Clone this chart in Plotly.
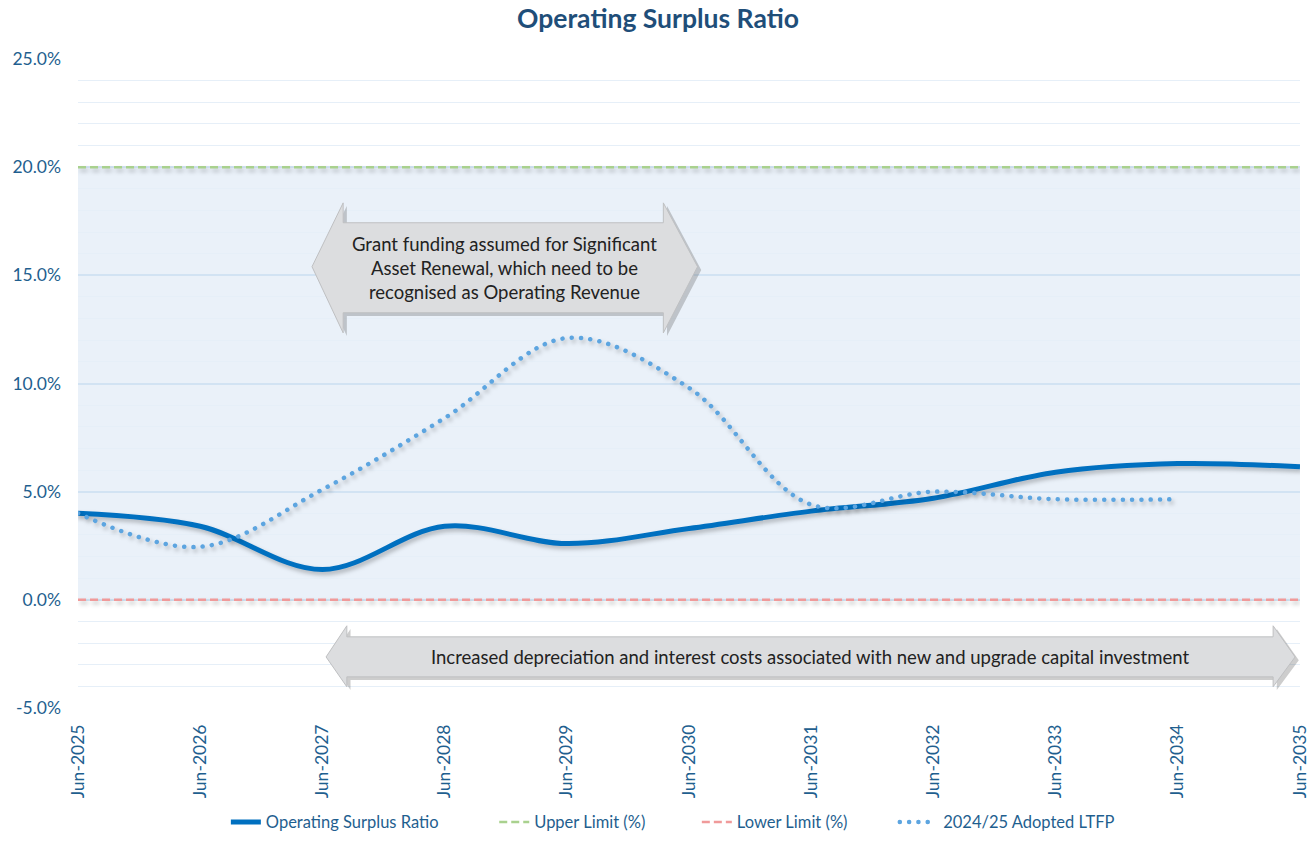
import plotly.graph_objects as go

# Data
periods = ["Jun-2025", "Jun-2026", "Jun-2027", "Jun-2028", "Jun-2029", "Jun-2030",
           "Jun-2031", "Jun-2032", "Jun-2033", "Jun-2034", "Jun-2035"]
surplus_ratio = [4.0, 3.4, 1.4, 3.4, 2.6, 3.3, 4.1, 4.7, 5.9, 6.3, 6.15]
upper_limit = [20.0] * len(periods)
lower_limit = [0.0] * len(periods)
ltfp_2425 = [4.0, 2.45, 5.1, 8.4, 12.1, 9.8, 4.4, 5.0, 4.65, 4.65]

y_ticks = [-5, 0, 5, 10, 15, 20, 25]
y_tick_labels = ["-5.0%", "0.0%", "5.0%", "10.0%", "15.0%", "20.0%", "25.0%"]

FONT = "Lato"
TEXT_BLUE = "#1F5F8F"
NB = "\u00a0"  # padding between legend entries


def arrow_path(x0, x1, xb0, xb1, yc, head_top, head_bot, body_top, body_bot, dx=0.0, dy=0.0):
    """Double headed block arrow as an SVG path in data units"""
    pts = [
        (x0, yc), (xb0, head_top), (xb0, body_top), (xb1, body_top), (xb1, head_top),
        (x1, yc), (xb1, head_bot), (xb1, body_bot), (xb0, body_bot), (xb0, head_bot),
    ]
    return "M " + " L ".join(f"{px + dx},{py + dy}" for px, py in pts) + " Z"


fig = go.Figure()

fig.add_trace(go.Scatter(
    x=periods, y=surplus_ratio, name="Operating Surplus Ratio" + NB * 12,
    mode="lines", line=dict(color="#0070C0", width=5, shape="spline", smoothing=1.0),
))
fig.add_trace(go.Scatter(
    x=periods, y=upper_limit, name="Upper Limit (%)" + NB * 11,
    mode="lines", line=dict(color="#A9D18E", width=2.5, dash="8px,4px"),
))
fig.add_trace(go.Scatter(
    x=periods, y=lower_limit, name="Lower Limit (%)" + NB * 10,
    mode="lines", line=dict(color="#F09A9A", width=2.5, dash="8px,4px"),
))
fig.add_trace(go.Scatter(
    x=periods[:len(ltfp_2425)], y=ltfp_2425, name=NB * 2 + "2024/25 Adopted LTFP",
    mode="lines", line=dict(color="#5DA5E0", width=4.5, dash="0.1px,9.2px", shape="spline", smoothing=1.0),
))

shapes = [
    # shaded band between limits
    dict(type="rect", xref="paper", x0=0, x1=1, yref="y", y0=0, y1=20,
         fillcolor="#EAF1F9", line=dict(width=0), layer="below"),
]

arrows = [
    # (x0, x1, xb0, xb1, yc, head_top, head_bot, body_top, body_bot)
    (1.915, 5.07, 2.17, 4.79, 15.4, 18.35, 12.34, 17.43, 13.27),
    (2.03, 9.96, 2.20, 9.78, -2.64, -1.2, -4.02, -1.71, -3.56),
]
for a in arrows:
    shapes.append(dict(type="path", xref="x", yref="y", path=arrow_path(*a, dx=0.03, dy=-0.15),
                       fillcolor="rgba(90,90,90,0.30)", line=dict(width=0)))
    shapes.append(dict(type="path", xref="x", yref="y", path=arrow_path(*a),
                       fillcolor="#DCDDDF", line=dict(color="#BFC0C2", width=1)))

annotations = [
    dict(x=3.49, y=15.35, xref="x", yref="y", showarrow=False,
         text="Grant funding assumed for Significant<br>Asset Renewal, which need to be<br>recognised as Operating Revenue",
         font=dict(family=FONT, size=18.5, color="#222222"), align="center"),
    dict(x=5.99, y=-2.62, xref="x", yref="y", showarrow=False,
         text="Increased depreciation and interest costs associated with new and upgrade capital investment",
         font=dict(family=FONT, size=18.5, color="#222222"), align="center"),
]

fig.update_layout(
    width=1316, height=843,
    paper_bgcolor="white", plot_bgcolor="white",
    margin=dict(l=78, r=16, t=59, b=135, autoexpand=False),
    title=dict(text="<b>Operating Surplus Ratio</b>", x=0.5, xanchor="center",
               y=1 - 19 / 843, yanchor="middle",
               font=dict(family=FONT, size=26.5, color="#1F4E79")),
    font=dict(family=FONT, color=TEXT_BLUE),
    shapes=shapes,
    annotations=annotations,
    showlegend=True,
    legend=dict(orientation="h", x=0.121, xanchor="left", y=-0.176, yanchor="middle",
                font=dict(family=FONT, size=16.5, color=TEXT_BLUE),
                traceorder="normal"),
)

fig.update_xaxes(
    type="category", range=[0, 10], tickangle=-90, automargin=False,
    tickfont=dict(family=FONT, size=17.5, color=TEXT_BLUE), ticklabelstandoff=12,
    showgrid=False, zeroline=False, showline=False, ticks="",
)
fig.update_yaxes(
    range=[-5, 25], tickvals=y_ticks, ticktext=y_tick_labels, automargin=False,
    tickfont=dict(family=FONT, size=17.5, color=TEXT_BLUE), ticklabelstandoff=16,
    showgrid=True, gridcolor="#D2E3F3", gridwidth=1.5,
    minor=dict(dtick=1, showgrid=True, gridcolor="#E6EFF8", gridwidth=1),
    zeroline=False, showline=False, ticks="",
)

# page margin off, round dots for the LTFP line, soft shadow under the lines
post = """
document.body.style.margin = '0';
var gd = document.getElementById('{plot_id}');
gd.querySelectorAll('path.js-line').forEach(function (p) {
    var dash = p.style.strokeDasharray || '';
    if (dash.indexOf('9.2') >= 0) { p.style.strokeLinecap = 'round'; }
    if (p.closest('.scatterlayer')) {
        p.style.filter = 'drop-shadow(2px 3px 2px rgba(0,0,0,0.25))';
    }
});
"""

fig.write_html("out.html", post_script=post, config={"displayModeBar": False})
